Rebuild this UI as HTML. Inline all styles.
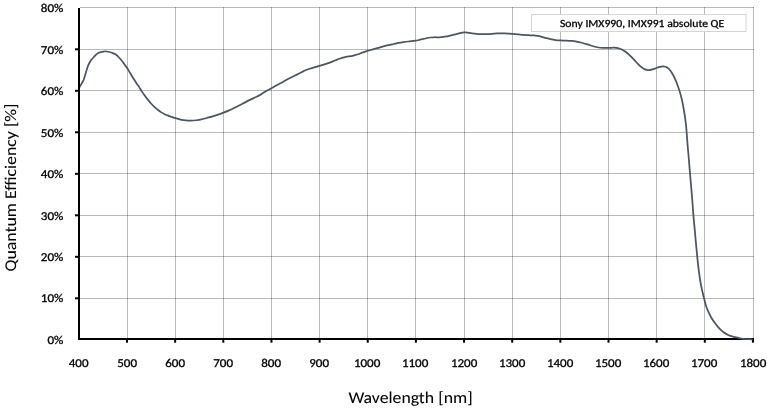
<!DOCTYPE html><html><head><meta charset="utf-8"><style>html,body{margin:0;padding:0;background:#fff;width:767px;height:409px;overflow:hidden}svg{display:block}text{font-family:Carlito,"Liberation Sans",sans-serif;fill:#000;stroke:#000;stroke-width:0.3px;text-rendering:geometricPrecision}</style></head><body>
<svg width="767" height="409" viewBox="0 0 767 409">
<rect width="767" height="409" fill="#fff"/>
<g fill="#000" fill-opacity="0.27">
<rect x="80" y="7" width="674" height="1"/>
<rect x="80" y="49" width="674" height="1"/>
<rect x="80" y="90" width="674" height="1"/>
<rect x="80" y="132" width="674" height="1"/>
<rect x="80" y="173" width="674" height="1"/>
<rect x="80" y="215" width="674" height="1"/>
<rect x="80" y="256" width="674" height="1"/>
<rect x="80" y="298" width="674" height="1"/>
<rect x="127" y="7" width="1" height="331"/>
<rect x="175" y="7" width="1" height="331"/>
<rect x="223" y="7" width="1" height="331"/>
<rect x="271" y="7" width="1" height="331"/>
<rect x="319" y="7" width="1" height="331"/>
<rect x="367" y="7" width="1" height="331"/>
<rect x="415" y="7" width="1" height="331"/>
<rect x="464" y="7" width="1" height="331"/>
<rect x="512" y="7" width="1" height="331"/>
<rect x="560" y="7" width="1" height="331"/>
<rect x="608" y="7" width="1" height="331"/>
<rect x="656" y="7" width="1" height="331"/>
<rect x="704" y="7" width="1" height="331"/>
<rect x="753" y="7" width="1" height="331"/>
</g>
<rect x="531.5" y="14.5" width="214.5" height="17" fill="#fff" stroke="#d4d4d4" stroke-width="1"/>
<text transform="translate(560,27) scale(1,0.93)" font-size="11.7" textLength="164.2" lengthAdjust="spacingAndGlyphs">Sony IMX990, IMX991 absolute QE</text>
<g fill="#000">
<rect x="78" y="338" width="676" height="2"/>
<rect x="75" y="48.30" width="3" height="2"/>
<rect x="75" y="89.80" width="3" height="2"/>
<rect x="75" y="131.30" width="3" height="2"/>
<rect x="75" y="172.80" width="3" height="2"/>
<rect x="75" y="214.30" width="3" height="2"/>
<rect x="75" y="255.80" width="3" height="2"/>
<rect x="75" y="297.30" width="3" height="2"/>
<rect x="126.00" y="340" width="2" height="2.7"/>
<rect x="174.15" y="340" width="2" height="2.7"/>
<rect x="222.30" y="340" width="2" height="2.7"/>
<rect x="270.45" y="340" width="2" height="2.7"/>
<rect x="318.60" y="340" width="2" height="2.7"/>
<rect x="366.75" y="340" width="2" height="2.7"/>
<rect x="414.90" y="340" width="2" height="2.7"/>
<rect x="463.05" y="340" width="2" height="2.7"/>
<rect x="511.20" y="340" width="2" height="2.7"/>
<rect x="559.35" y="340" width="2" height="2.7"/>
<rect x="607.50" y="340" width="2" height="2.7"/>
<rect x="655.65" y="340" width="2" height="2.7"/>
<rect x="703.80" y="340" width="2" height="2.7"/>
<rect x="751.95" y="340" width="2" height="2.7"/>
</g>
<path d="M79.00 87.90 C79.33 87.33 79.52 87.00 80.00 86.20 C80.48 85.40 81.30 84.12 81.90 83.10 C82.50 82.08 83.03 81.10 83.60 80.10 C83.87 79.23 84.13 78.38 84.40 77.50 C84.67 76.62 84.93 75.70 85.20 74.80 C85.47 73.90 85.72 73.03 86.00 72.10 C86.28 71.17 86.52 70.35 86.90 69.20 C87.28 68.05 87.82 66.37 88.30 65.20 C88.78 64.03 89.22 63.18 89.80 62.20 C90.38 61.22 91.07 60.22 91.80 59.30 C92.53 58.38 93.48 57.48 94.20 56.70 C94.92 55.92 95.33 55.25 96.10 54.60 C96.87 53.95 97.90 53.27 98.80 52.80 C99.70 52.33 100.62 52.02 101.50 51.80 C102.38 51.58 103.22 51.55 104.10 51.50 C104.98 51.45 105.90 51.42 106.80 51.50 C107.70 51.58 108.60 51.77 109.50 52.00 C110.40 52.23 111.30 52.55 112.20 52.90 C113.10 53.25 113.95 53.53 114.90 54.10 C115.85 54.67 116.92 55.40 117.90 56.30 C118.88 57.20 119.83 58.35 120.80 59.50 C121.77 60.65 122.60 61.68 123.70 63.20 C124.80 64.72 126.30 66.92 127.40 68.60 C128.50 70.28 129.32 71.68 130.30 73.30 C131.28 74.92 132.27 76.65 133.30 78.30 C134.33 79.95 135.47 81.65 136.50 83.20 C137.53 84.75 138.70 86.36 139.50 87.60 C140.30 88.84 140.43 89.31 141.30 90.64 C142.17 91.97 143.58 94.00 144.70 95.55 C145.82 97.09 146.90 98.54 148.00 99.91 C149.10 101.28 150.20 102.56 151.30 103.75 C152.40 104.94 153.48 106.02 154.60 107.06 C155.72 108.10 156.88 109.11 158.00 110.00 C159.12 110.89 160.20 111.68 161.30 112.38 C162.40 113.08 163.57 113.68 164.60 114.19 C165.63 114.70 166.57 115.06 167.50 115.43 C168.43 115.80 168.88 115.95 170.20 116.41 C171.52 116.86 173.67 117.64 175.40 118.16 C177.13 118.68 178.85 119.18 180.60 119.54 C182.35 119.91 184.15 120.18 185.90 120.35 C187.65 120.52 189.37 120.57 191.10 120.55 C192.83 120.53 194.57 120.44 196.30 120.25 C198.03 120.06 199.77 119.80 201.50 119.43 C203.23 119.06 204.95 118.49 206.70 118.01 C208.45 117.53 210.20 117.10 212.00 116.58 C213.80 116.06 215.58 115.53 217.50 114.88 C219.42 114.23 221.57 113.43 223.50 112.68 C225.43 111.93 227.25 111.19 229.10 110.37 C230.95 109.55 232.77 108.68 234.60 107.78 C236.43 106.88 238.27 105.94 240.10 104.99 C241.93 104.04 243.78 103.04 245.60 102.11 C247.42 101.18 249.18 100.30 251.00 99.41 C252.82 98.52 254.63 97.74 256.50 96.77 C258.37 95.80 260.48 94.57 262.20 93.57 C263.92 92.57 265.27 91.64 266.80 90.75 C268.33 89.86 269.82 89.07 271.40 88.21 C272.98 87.35 274.62 86.51 276.30 85.59 C277.98 84.67 279.78 83.65 281.50 82.68 C283.22 81.71 284.90 80.66 286.60 79.75 C288.30 78.84 289.98 78.06 291.70 77.20 C293.42 76.34 295.18 75.47 296.90 74.60 C298.62 73.73 300.57 72.72 302.00 72.00 C303.43 71.28 304.23 70.85 305.50 70.31 C306.77 69.77 308.05 69.27 309.60 68.75 C311.15 68.23 313.15 67.69 314.80 67.21 C316.45 66.73 317.87 66.36 319.50 65.88 C321.13 65.39 322.88 64.84 324.60 64.30 C326.32 63.76 328.07 63.27 329.80 62.64 C331.53 62.01 333.27 61.20 335.00 60.51 C336.73 59.81 338.68 58.99 340.20 58.47 C341.72 57.95 342.58 57.71 344.10 57.36 C345.62 57.01 347.90 56.60 349.30 56.34 C350.70 56.08 351.18 56.09 352.50 55.79 C353.82 55.49 355.55 55.07 357.20 54.54 C358.85 54.01 360.68 53.23 362.40 52.63 C364.12 52.03 365.75 51.47 367.50 50.93 C369.25 50.39 371.13 49.91 372.90 49.40 C374.67 48.89 376.37 48.40 378.10 47.90 C379.83 47.40 381.57 46.88 383.30 46.42 C385.03 45.96 386.77 45.52 388.50 45.12 C390.23 44.71 392.03 44.35 393.70 43.99 C395.37 43.63 396.92 43.25 398.50 42.95 C400.08 42.65 401.55 42.45 403.20 42.21 C404.85 41.97 406.35 41.76 408.40 41.50 C410.45 41.24 413.53 40.98 415.50 40.68 C417.47 40.38 418.55 40.05 420.20 39.69 C421.85 39.33 423.67 38.88 425.40 38.51 C427.13 38.14 429.08 37.71 430.60 37.50 C432.12 37.29 432.98 37.28 434.50 37.25 C436.02 37.22 438.18 37.37 439.70 37.31 C441.22 37.26 442.38 37.09 443.60 36.92 C444.82 36.75 445.90 36.51 447.00 36.29 C448.10 36.07 448.80 35.91 450.20 35.59 C451.60 35.27 453.77 34.77 455.40 34.37 C457.03 33.97 458.50 33.49 460.00 33.17 C461.50 32.85 463.20 32.58 464.40 32.47 C465.60 32.36 466.08 32.41 467.20 32.53 C468.32 32.65 469.58 32.94 471.10 33.16 C472.62 33.38 474.57 33.70 476.30 33.85 C478.03 34.00 479.77 34.04 481.50 34.08 C483.23 34.12 484.97 34.12 486.70 34.07 C488.43 34.02 490.15 33.90 491.90 33.78 C493.65 33.66 495.45 33.42 497.20 33.34 C498.95 33.27 500.67 33.29 502.40 33.33 C504.13 33.37 505.92 33.51 507.60 33.59 C509.28 33.67 510.75 33.70 512.50 33.82 C514.25 33.94 516.30 34.13 518.10 34.32 C519.90 34.51 521.57 34.80 523.30 34.95 C525.03 35.10 526.77 35.12 528.50 35.20 C530.23 35.29 532.18 35.33 533.70 35.46 C535.22 35.59 536.38 35.76 537.60 35.96 C538.82 36.16 539.73 36.35 541.00 36.66 C542.27 36.96 543.63 37.37 545.20 37.79 C546.77 38.21 548.67 38.77 550.40 39.16 C552.13 39.55 553.92 39.91 555.60 40.13 C557.28 40.35 558.75 40.40 560.50 40.48 C562.25 40.56 564.30 40.54 566.10 40.62 C567.90 40.70 569.57 40.77 571.30 40.93 C573.03 41.09 574.77 41.26 576.50 41.56 C578.23 41.86 579.87 42.25 581.70 42.73 C583.53 43.20 585.58 43.82 587.50 44.41 C589.42 45.00 591.38 45.74 593.20 46.26 C595.02 46.78 596.67 47.24 598.40 47.51 C600.13 47.78 601.93 47.81 603.60 47.87 C605.27 47.93 606.65 47.91 608.40 47.88 C610.15 47.85 612.50 47.63 614.10 47.67 C615.70 47.71 616.70 47.80 618.00 48.10 C619.30 48.41 620.60 48.84 621.90 49.50 C623.20 50.16 624.50 51.11 625.80 52.07 C627.10 53.03 628.42 54.11 629.70 55.28 C630.98 56.45 632.13 57.64 633.50 59.08 C634.87 60.52 636.68 62.63 637.90 63.90 C639.12 65.17 639.83 65.90 640.80 66.69 C641.77 67.48 642.72 68.14 643.70 68.66 C644.68 69.17 645.72 69.56 646.70 69.78 C647.68 70.00 648.63 70.07 649.60 70.01 C650.57 69.95 651.38 69.76 652.50 69.43 C653.62 69.10 655.12 68.45 656.30 68.03 C657.48 67.61 658.57 67.23 659.60 66.94 C660.63 66.65 661.52 66.34 662.50 66.30 C663.48 66.26 664.48 66.32 665.50 66.70 C666.52 67.08 667.60 67.68 668.60 68.60 C669.60 69.52 670.47 70.58 671.50 72.20 C672.53 73.82 673.87 76.33 674.80 78.30 C675.73 80.27 676.35 82.00 677.10 84.00 C677.85 86.00 678.70 88.47 679.30 90.30 C679.90 92.13 680.27 93.42 680.70 95.00 C681.13 96.58 681.53 98.18 681.90 99.80 C682.27 101.42 682.58 103.07 682.90 104.70 C683.22 106.33 683.52 107.97 683.80 109.60 C684.08 111.23 684.35 112.87 684.60 114.50 C684.85 116.13 685.08 117.77 685.30 119.40 C685.52 121.03 685.70 122.45 685.90 124.30 C686.10 126.15 686.20 126.87 686.50 130.50 C686.80 134.13 687.30 141.22 687.70 146.10 C688.10 150.98 688.52 155.23 688.90 159.80 C689.28 164.37 689.62 168.95 690.00 173.50 C690.38 178.05 690.77 181.98 691.20 187.10 C691.63 192.22 692.23 199.48 692.60 204.20 C692.97 208.92 693.07 211.40 693.40 215.40 C693.73 219.40 694.23 224.22 694.60 228.20 C694.97 232.18 695.17 234.60 695.60 239.30 C696.03 244.00 696.70 251.42 697.20 256.40 C697.70 261.38 698.03 264.77 698.60 269.20 C699.17 273.63 699.90 279.00 700.60 283.00 C701.30 287.00 702.13 290.28 702.80 293.20 C703.47 296.12 704.05 298.33 704.60 300.50 C705.15 302.67 705.50 304.40 706.10 306.20 C706.70 308.00 707.35 309.42 708.20 311.30 C709.05 313.18 710.02 315.45 711.20 317.50 C712.38 319.55 713.92 321.73 715.30 323.60 C716.68 325.47 718.12 327.25 719.50 328.70 C720.88 330.15 722.07 331.22 723.60 332.30 C725.13 333.38 727.00 334.45 728.70 335.20 C730.40 335.95 732.27 336.38 733.80 336.80 C735.33 337.22 736.70 337.42 737.90 337.70 C739.10 337.98 739.82 338.27 741.00 338.50 C742.18 338.73 743.17 338.97 745.00 339.10 C746.83 339.23 749.67 339.23 752.00 339.30" fill="none" stroke="#4e5463" stroke-width="1.75" stroke-linejoin="round" stroke-linecap="round"/>
<rect x="78" y="8" width="2" height="332" fill="#000"/>
<g font-size="13" text-anchor="end">
<text transform="translate(63.3,12.1) scale(1,0.93)" textLength="22.48" lengthAdjust="spacingAndGlyphs">80%</text>
<text transform="translate(63.3,53.6) scale(1,0.93)" textLength="22.48" lengthAdjust="spacingAndGlyphs">70%</text>
<text transform="translate(63.3,95.0) scale(1,0.93)" textLength="22.48" lengthAdjust="spacingAndGlyphs">60%</text>
<text transform="translate(63.3,136.5) scale(1,0.93)" textLength="22.48" lengthAdjust="spacingAndGlyphs">50%</text>
<text transform="translate(63.3,178.0) scale(1,0.93)" textLength="22.48" lengthAdjust="spacingAndGlyphs">40%</text>
<text transform="translate(63.3,219.5) scale(1,0.93)" textLength="22.48" lengthAdjust="spacingAndGlyphs">30%</text>
<text transform="translate(63.3,261.0) scale(1,0.93)" textLength="22.48" lengthAdjust="spacingAndGlyphs">20%</text>
<text transform="translate(63.3,302.4) scale(1,0.93)" textLength="22.48" lengthAdjust="spacingAndGlyphs">10%</text>
<text transform="translate(63.3,343.9) scale(1,0.93)" textLength="15.89" lengthAdjust="spacingAndGlyphs">0%</text>
</g>
<g font-size="13" text-anchor="middle">
<text transform="translate(78.6,367.2) scale(1,0.93)" textLength="19.78" lengthAdjust="spacingAndGlyphs">400</text>
<text transform="translate(127.1,367.2) scale(1,0.93)" textLength="19.78" lengthAdjust="spacingAndGlyphs">500</text>
<text transform="translate(175.1,367.2) scale(1,0.93)" textLength="19.78" lengthAdjust="spacingAndGlyphs">600</text>
<text transform="translate(223.1,367.2) scale(1,0.93)" textLength="19.78" lengthAdjust="spacingAndGlyphs">700</text>
<text transform="translate(271.1,367.2) scale(1,0.93)" textLength="19.78" lengthAdjust="spacingAndGlyphs">800</text>
<text transform="translate(319.1,367.2) scale(1,0.93)" textLength="19.78" lengthAdjust="spacingAndGlyphs">900</text>
<text transform="translate(367.1,367.2) scale(1,0.93)" textLength="26.36" lengthAdjust="spacingAndGlyphs">1000</text>
<text transform="translate(415.1,367.2) scale(1,0.93)" textLength="26.36" lengthAdjust="spacingAndGlyphs">1100</text>
<text transform="translate(464.1,367.2) scale(1,0.93)" textLength="26.36" lengthAdjust="spacingAndGlyphs">1200</text>
<text transform="translate(512.1,367.2) scale(1,0.93)" textLength="26.36" lengthAdjust="spacingAndGlyphs">1300</text>
<text transform="translate(560.1,367.2) scale(1,0.93)" textLength="26.36" lengthAdjust="spacingAndGlyphs">1400</text>
<text transform="translate(608.1,367.2) scale(1,0.93)" textLength="26.36" lengthAdjust="spacingAndGlyphs">1500</text>
<text transform="translate(656.1,367.2) scale(1,0.93)" textLength="26.36" lengthAdjust="spacingAndGlyphs">1600</text>
<text transform="translate(704.1,367.2) scale(1,0.93)" textLength="26.36" lengthAdjust="spacingAndGlyphs">1700</text>
<text transform="translate(753.1,367.2) scale(1,0.93)" textLength="26.36" lengthAdjust="spacingAndGlyphs">1800</text>
</g>
<text transform="translate(410.5,403) scale(1,0.92)" font-size="17.8" style="stroke-width:0.05px" text-anchor="middle" textLength="124.28" lengthAdjust="spacingAndGlyphs">Wavelength [nm]</text>
<text transform="translate(15.7,187.5) rotate(-90) scale(1,0.92)" font-size="17.8" style="stroke-width:0.05px" text-anchor="middle" textLength="168.02" lengthAdjust="spacingAndGlyphs">Quantum Efficiency [%]</text>
</svg></body></html>
